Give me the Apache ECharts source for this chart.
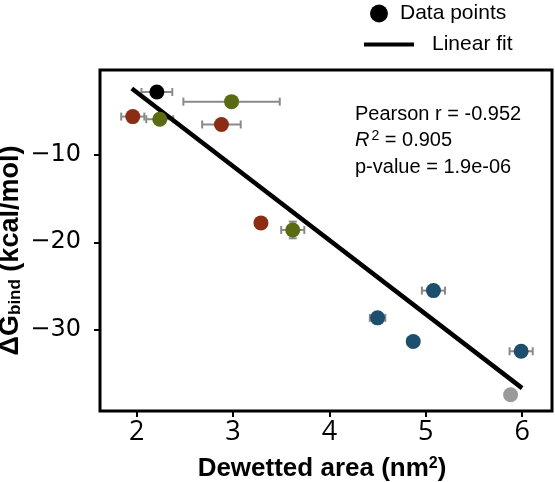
<!DOCTYPE html>
<html>
<head>
<meta charset="utf-8">
<script src="https://cdn.jsdelivr.net/npm/echarts@6/dist/echarts.min.js"></script>
<style>
  html, body { margin: 0; padding: 0; background: #fff; }
  #chart { width: 555px; height: 482px; }
</style>
</head>
<body>
<div id="chart"></div>
<script>
// 数据：每个点的去湿面积、结合自由能、误差和分组颜色
const area   = [2.21, 2.985, 1.96, 2.24, 2.88, 3.29, 3.62, 5.08, 4.50, 4.87, 5.99, 5.88];
const dG     = [-2.9, -4.0, -5.7, -6.0, -6.6, -17.8, -18.6, -25.5, -28.6, -31.3, -32.4, -37.35];
const xErr   = [0.16, 0.50, 0.12, 0.14, 0.20, 0.05, 0.12, 0.12, 0.08, 0.06, 0.12, 0];
const yErr   = [0, 0, 0, 0, 0, 0, 0.95, 0, 0, 0, 0, 0];
const group  = ['black', 'olive', 'red', 'olive', 'red', 'red', 'olive', 'blue', 'blue', 'blue', 'blue', 'gray'];

// 线性拟合端点
const fitX = [1.95, 6.0];
const fitY = [-2.5, -36.6];

const xTicks = [2, 3, 4, 5, 6];
const yTicks = [-30, -20, -10];

const COLORS = {
  black: '#000000',
  olive: '#5a6b12',
  red: '#8b2d14',
  blue: '#1d4e6e',
  gray: '#9a9a9a'
};

const chart = echarts.init(document.getElementById('chart'));

const errData = area.map((x, i) => [x, dG[i], xErr[i], yErr[i]]);

chart.setOption({
  animation: false,
  grid: {
    left: 100, right: 3, top: 70, bottom: 71,
    outerBoundsMode: 'none',
    containLabel: false,
    show: true,
    borderColor: '#000',
    borderWidth: 3,
    backgroundColor: 'transparent'
  },
  legend: [
    {
      data: ['Data points'],
      left: 370, top: 3,
      padding: 0,
      icon: 'circle',
      itemWidth: 18, itemHeight: 18,
      textStyle: { fontFamily: 'Liberation Sans', fontSize: 21, color: '#000', padding: [0, 0, 0, 7] },
      selectedMode: false
    },
    {
      data: [{ name: 'Linear fit', icon: 'rect' }],
      left: 364, top: 34,
      padding: 0,
      itemWidth: 50, itemHeight: 4,
      textStyle: { fontFamily: 'Liberation Sans', fontSize: 21, color: '#000', padding: [0, 0, 0, 13] },
      selectedMode: false
    }
  ],
  xAxis: {
    type: 'value',
    min: 1.62, max: 6.31,
    splitLine: { show: false },
    axisLine: { show: false },
    axisTick: { show: true, length: 6, lineStyle: { color: '#000', width: 2 }, customValues: xTicks },
    axisLabel: {
      customValues: xTicks,
      fontFamily: 'Open Sans', fontSize: 27, color: '#000', margin: 8
    },
    name: '{b|Dewetted area (nm}{sup|2}{b|)}',
    nameLocation: 'middle',
    nameGap: 45,
    nameMoveOverlap: false,
    nameTextStyle: {
      padding: [0, 8, 0, 0],
      rich: {
        b: { fontFamily: 'Liberation Sans', fontWeight: 'bold', fontSize: 26, color: '#000' },
        sup: { fontFamily: 'Liberation Sans', fontWeight: 'bold', fontSize: 16, color: '#000', verticalAlign: 'top', padding: [0, 0, 10, 0] }
      }
    }
  },
  yAxis: {
    type: 'value',
    min: -39.2, max: -0.4,
    splitLine: { show: false },
    axisLine: { show: false },
    axisTick: { show: true, length: 6, lineStyle: { color: '#000', width: 2 }, customValues: yTicks },
    axisLabel: {
      customValues: yTicks,
      fontFamily: 'DejaVu Sans', fontSize: 24, color: '#000', margin: 19,
      formatter: v => String(v).replace('-', '\u2212')
    },
    name: '{b|ΔG}{sub|bind}{b| (kcal/mol)}',
    nameLocation: 'middle',
    nameGap: 76,
    nameMoveOverlap: false,
    nameTextStyle: {
      padding: [0, 20, 0, 0],
      rich: {
        b: { fontFamily: 'Liberation Sans', fontWeight: 'bold', fontSize: 27, color: '#000' },
        sub: { fontFamily: 'Liberation Sans', fontWeight: 'bold', fontSize: 17, color: '#000', padding: [10, 0, 0, 0] }
      }
    }
  },
  graphic: [
    {
      type: 'text', left: 355, top: 104,
      style: { text: 'Pearson r = -0.952', font: '20px "Liberation Sans"', fill: '#000' }
    },
    {
      type: 'text', left: 355, top: 129,
      style: {
        text: '{i|R}{s|2}{n| = 0.905}',
        rich: {
          i: { fontFamily: 'Liberation Sans', fontStyle: 'italic', fontSize: 20, fill: '#000' },
          s: { fontFamily: 'Liberation Sans', fontSize: 14, fill: '#000', padding: [0, 0, 9, 2] },
          n: { fontFamily: 'Liberation Sans', fontSize: 20, fill: '#000' }
        }
      }
    },
    {
      type: 'text', left: 355, top: 157,
      style: { text: 'p-value = 1.9e-06', font: '20px "Liberation Sans"', fill: '#000' }
    }
  ],
  series: [
    {
      name: 'errors',
      type: 'custom',
      z: 1,
      data: errData,
      renderItem(params, api) {
        const x = api.value(0), y = api.value(1), ex = api.value(2), ey = api.value(3);
        const children = [];
        const style = { stroke: '#8a8a8a', lineWidth: 2 };
        const cap = 4;
        if (ex > 0) {
          const a = api.coord([x - ex, y]);
          const b = api.coord([x + ex, y]);
          children.push({ type: 'line', shape: { x1: a[0], y1: a[1], x2: b[0], y2: b[1] }, style });
          children.push({ type: 'line', shape: { x1: a[0], y1: a[1] - cap, x2: a[0], y2: a[1] + cap }, style });
          children.push({ type: 'line', shape: { x1: b[0], y1: b[1] - cap, x2: b[0], y2: b[1] + cap }, style });
        }
        if (ey > 0) {
          const a = api.coord([x, y - ey]);
          const b = api.coord([x, y + ey]);
          children.push({ type: 'line', shape: { x1: a[0], y1: a[1], x2: b[0], y2: b[1] }, style });
          children.push({ type: 'line', shape: { x1: a[0] - cap, y1: a[1], x2: a[0] + cap, y2: a[1] }, style });
          children.push({ type: 'line', shape: { x1: b[0] - cap, y1: b[1], x2: b[0] + cap, y2: b[1] }, style });
        }
        return { type: 'group', children };
      }
    },
    {
      name: 'Linear fit',
      type: 'line',
      z: 2,
      showSymbol: false,
      symbol: 'none',
      color: '#000',
      lineStyle: { color: '#000', width: 4.5 },
      data: fitX.map((x, i) => [x, fitY[i]])
    },
    {
      name: 'Data points',
      type: 'scatter',
      z: 3,
      symbolSize: 15,
      itemStyle: { color: '#000', opacity: 1 },
      data: area.map((x, i) => ({ value: [x, dG[i]], itemStyle: { color: COLORS[group[i]] } }))
    }
  ]
});
</script>
</body>
</html>
